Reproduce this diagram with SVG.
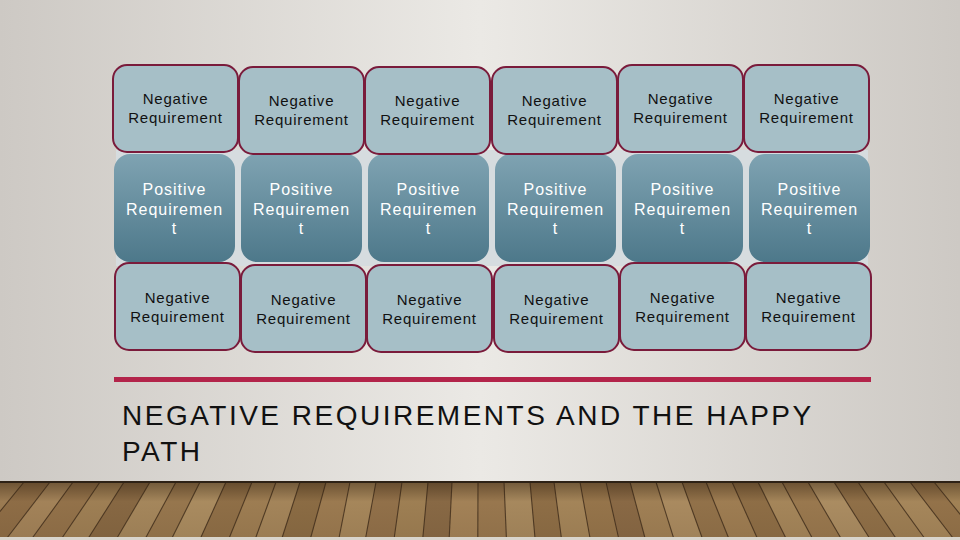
<svg xmlns="http://www.w3.org/2000/svg" width="960" height="540" viewBox="0 0 960 540">
<defs>
<linearGradient id="bg" x1="0" y1="0" x2="1" y2="0">
<stop offset="0" stop-color="#cdc9c4"/>
<stop offset="0.5" stop-color="#ebe9e5"/>
<stop offset="1" stop-color="#cdc9c4"/>
</linearGradient>
<linearGradient id="pos" x1="0" y1="0" x2="0" y2="1">
<stop offset="0" stop-color="#7fa3b2"/>
<stop offset="1" stop-color="#4d788a"/>
</linearGradient>
<linearGradient id="floorShade" x1="0" y1="0" x2="0" y2="1">
<stop offset="0" stop-color="#2a1a0a" stop-opacity="0.45"/>
<stop offset="0.35" stop-color="#2a1a0a" stop-opacity="0.05"/>
<stop offset="1" stop-color="#2a1a0a" stop-opacity="0.12"/>
</linearGradient>
<style>
.neg rect{fill:#a6bfc7;stroke:#7a1b3b;stroke-width:2}
.neg text{font-family:"Liberation Sans",Arial,sans-serif;font-size:15px;fill:#111;text-anchor:middle;letter-spacing:0.8px}
.pos rect{fill:url(#pos)}
.pos text{font-family:"Liberation Sans",Arial,sans-serif;font-size:16px;fill:#fff;text-anchor:middle;letter-spacing:1px}
.title{font-family:"Liberation Sans",Arial,sans-serif;font-size:28px;fill:#111;letter-spacing:2.5px}
.pl{stroke:#3e2c1a;stroke-width:1.1;stroke-opacity:0.8}
</style>
</defs>
<rect width="960" height="540" fill="url(#bg)"/>
<rect x="116" y="150" width="752" height="116" fill="#d6dcdf"/>

<!-- floor -->
<g id="floor">
<rect x="0" y="482" width="960" height="58" fill="#9a7a50"/>
<polygon points="0,482 24,482 -21.6,538 -48,538" fill="#a5845a"/>
<polygon points="24,482 50,482 7,538 -21.6,538" fill="#8a6942"/>
<polygon points="50,482 73,482 32.3,538 7,538" fill="#b39366"/>
<polygon points="73,482 100,482 62,538 32.3,538" fill="#94724a"/>
<polygon points="100,482 124,482 88.4,538 62,538" fill="#a98a5e"/>
<polygon points="124,482 150,482 117,538 88.4,538" fill="#7f603c"/>
<polygon points="150,482 176,482 145.6,538 117,538" fill="#b79a6c"/>
<polygon points="176,482 200,482 172,538 145.6,538" fill="#9c7b50"/>
<polygon points="200,482 226,482 200.6,538 172,538" fill="#c0a274"/>
<polygon points="226,482 252,482 229.2,538 200.6,538" fill="#8d6c44"/>
<polygon points="252,482 276,482 255.6,538 229.2,538" fill="#a88859"/>
<polygon points="276,482 300,482 282,538 255.6,538" fill="#b59668"/>
<polygon points="300,482 326,482 310.6,538 282,538" fill="#86663f"/>
<polygon points="326,482 350,482 339,538 310.6,538" fill="#a48256"/>
<polygon points="350,482 376,482 365.6,538 339,538" fill="#b89a6b"/>
<polygon points="376,482 402,482 394.2,538 365.6,538" fill="#92704a"/>
<polygon points="402,482 428,482 422.8,538 394.2,538" fill="#a98a5c"/>
<polygon points="428,482 452,482 449.2,538 422.8,538" fill="#806140"/>
<polygon points="452,482 478,482 477.8,538 449.2,538" fill="#b29163"/>
<polygon points="478,482 504,482 506.4,538 477.8,538" fill="#9e7d52"/>
<polygon points="504,482 530,482 535,538 506.4,538" fill="#bb9d6f"/>
<polygon points="530,482 554,482 561.4,538 535,538" fill="#8a6a43"/>
<polygon points="554,482 580,482 590,538 561.4,538" fill="#b49566"/>
<polygon points="580,482 606,482 618.6,538 590,538" fill="#9a774b"/>
<polygon points="606,482 630,482 645,538 618.6,538" fill="#826240"/>
<polygon points="630,482 656,482 673.6,538 645,538" fill="#ad8d5f"/>
<polygon points="656,482 682,482 702.2,538 673.6,538" fill="#bfa173"/>
<polygon points="682,482 706,482 728.6,538 702.2,538" fill="#93714a"/>
<polygon points="706,482 732,482 757.2,538 728.6,538" fill="#a98859"/>
<polygon points="732,482 758,482 785.8,538 757.2,538" fill="#8b6a43"/>
<polygon points="758,482 782,482 812.2,538 785.8,538" fill="#b69868"/>
<polygon points="782,482 808,482 840.8,538 812.2,538" fill="#a07e53"/>
<polygon points="808,482 834,482 869.4,538 840.8,538" fill="#c1a577"/>
<polygon points="834,482 858,482 895.8,538 869.4,538" fill="#8e6d46"/>
<polygon points="858,482 884,482 924.4,538 895.8,538" fill="#aa8a5d"/>
<polygon points="884,482 910,482 953,538 924.4,538" fill="#b89a6b"/>
<polygon points="910,482 934,482 979.4,538 953,538" fill="#957349"/>
<polygon points="934,482 960,482 1008,538 979.4,538" fill="#b0905f"/>
<rect x="0" y="482" width="960" height="56" fill="#9d7d53" fill-opacity="0.45"/>
<g class="pl">
<line x1="24" y1="482" x2="-21.6" y2="538"/><line x1="50" y1="482" x2="7" y2="538"/><line x1="73" y1="482" x2="32.3" y2="538"/><line x1="100" y1="482" x2="62" y2="538"/><line x1="124" y1="482" x2="88.4" y2="538"/><line x1="150" y1="482" x2="117" y2="538"/><line x1="176" y1="482" x2="145.6" y2="538"/><line x1="200" y1="482" x2="172" y2="538"/><line x1="226" y1="482" x2="200.6" y2="538"/><line x1="252" y1="482" x2="229.2" y2="538"/><line x1="276" y1="482" x2="255.6" y2="538"/><line x1="300" y1="482" x2="282" y2="538"/><line x1="326" y1="482" x2="310.6" y2="538"/><line x1="350" y1="482" x2="339" y2="538"/><line x1="376" y1="482" x2="365.6" y2="538"/><line x1="402" y1="482" x2="394.2" y2="538"/><line x1="428" y1="482" x2="422.8" y2="538"/><line x1="452" y1="482" x2="449.2" y2="538"/><line x1="478" y1="482" x2="477.8" y2="538"/><line x1="504" y1="482" x2="506.4" y2="538"/><line x1="530" y1="482" x2="535" y2="538"/><line x1="554" y1="482" x2="561.4" y2="538"/><line x1="580" y1="482" x2="590" y2="538"/><line x1="606" y1="482" x2="618.6" y2="538"/><line x1="630" y1="482" x2="645" y2="538"/><line x1="656" y1="482" x2="673.6" y2="538"/><line x1="682" y1="482" x2="702.2" y2="538"/><line x1="706" y1="482" x2="728.6" y2="538"/><line x1="732" y1="482" x2="757.2" y2="538"/><line x1="758" y1="482" x2="785.8" y2="538"/><line x1="782" y1="482" x2="812.2" y2="538"/><line x1="808" y1="482" x2="840.8" y2="538"/><line x1="834" y1="482" x2="869.4" y2="538"/><line x1="858" y1="482" x2="895.8" y2="538"/><line x1="884" y1="482" x2="924.4" y2="538"/><line x1="910" y1="482" x2="953" y2="538"/><line x1="934" y1="482" x2="979.4" y2="538"/>
</g>
<rect x="0" y="482" width="960" height="56" fill="url(#floorShade)"/>
<rect x="0" y="481" width="960" height="2" fill="#2e2216"/>
<rect x="0" y="537" width="960" height="3" fill="#d9d5cd"/>
</g>

<!-- row 2: positive -->
<g id="p1" class="pos"><rect x="114" y="154" width="121" height="108" rx="16"/><text x="174.5" y="195">Positive</text><text x="174.5" y="214.5">Requiremen</text><text x="174.5" y="234">t</text></g>
<g id="p2" class="pos"><rect x="241" y="154" width="121" height="108" rx="16"/><text x="301.5" y="195">Positive</text><text x="301.5" y="214.5">Requiremen</text><text x="301.5" y="234">t</text></g>
<g id="p3" class="pos"><rect x="368" y="154" width="121" height="108" rx="16"/><text x="428.5" y="195">Positive</text><text x="428.5" y="214.5">Requiremen</text><text x="428.5" y="234">t</text></g>
<g id="p4" class="pos"><rect x="495" y="154" width="121" height="108" rx="16"/><text x="555.5" y="195">Positive</text><text x="555.5" y="214.5">Requiremen</text><text x="555.5" y="234">t</text></g>
<g id="p5" class="pos"><rect x="622" y="154" width="121" height="108" rx="16"/><text x="682.5" y="195">Positive</text><text x="682.5" y="214.5">Requiremen</text><text x="682.5" y="234">t</text></g>
<g id="p6" class="pos"><rect x="749" y="154" width="121" height="108" rx="16"/><text x="809.5" y="195">Positive</text><text x="809.5" y="214.5">Requiremen</text><text x="809.5" y="234">t</text></g>

<!-- row 1: negative -->
<g id="n1" class="neg"><rect x="113" y="65" width="125" height="87" rx="14"/><text x="175.5" y="104">Negative</text><text x="175.5" y="123">Requirement</text></g>
<g id="n2" class="neg"><rect x="239" y="67" width="125" height="87" rx="14"/><text x="301.5" y="106">Negative</text><text x="301.5" y="125">Requirement</text></g>
<g id="n3" class="neg"><rect x="365" y="67" width="125" height="87" rx="14"/><text x="427.5" y="106">Negative</text><text x="427.5" y="125">Requirement</text></g>
<g id="n4" class="neg"><rect x="492" y="67" width="125" height="87" rx="14"/><text x="554.5" y="106">Negative</text><text x="554.5" y="125">Requirement</text></g>
<g id="n5" class="neg"><rect x="618" y="65" width="125" height="87" rx="14"/><text x="680.5" y="104">Negative</text><text x="680.5" y="123">Requirement</text></g>
<g id="n6" class="neg"><rect x="744" y="65" width="125" height="87" rx="14"/><text x="806.5" y="104">Negative</text><text x="806.5" y="123">Requirement</text></g>

<!-- row 3: negative -->
<g id="n7" class="neg"><rect x="115" y="263" width="125" height="87" rx="14"/><text x="177.5" y="303">Negative</text><text x="177.5" y="322">Requirement</text></g>
<g id="n8" class="neg"><rect x="241" y="265" width="125" height="87" rx="14"/><text x="303.5" y="305">Negative</text><text x="303.5" y="324">Requirement</text></g>
<g id="n9" class="neg"><rect x="367" y="265" width="125" height="87" rx="14"/><text x="429.5" y="305">Negative</text><text x="429.5" y="324">Requirement</text></g>
<g id="n10" class="neg"><rect x="494" y="265" width="125" height="87" rx="14"/><text x="556.5" y="305">Negative</text><text x="556.5" y="324">Requirement</text></g>
<g id="n11" class="neg"><rect x="620" y="263" width="125" height="87" rx="14"/><text x="682.5" y="303">Negative</text><text x="682.5" y="322">Requirement</text></g>
<g id="n12" class="neg"><rect x="746" y="263" width="125" height="87" rx="14"/><text x="808.5" y="303">Negative</text><text x="808.5" y="322">Requirement</text></g>

<g id="connectors"></g>

<rect x="114" y="377" width="757" height="5" fill="#b3244a"/>
<text class="title" x="122" y="425">NEGATIVE REQUIREMENTS AND THE HAPPY</text>
<text class="title" x="122" y="461">PATH</text>
</svg>
